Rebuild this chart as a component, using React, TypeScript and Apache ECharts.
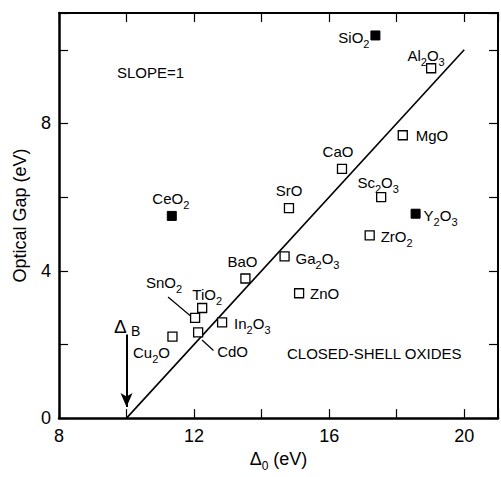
import React, { useEffect, useRef } from 'react';
import * as echarts from 'echarts';

// ---- Data ----
const oxides = ['SiO2', 'Al2O3', 'MgO', 'CaO', 'Sc2O3', 'SrO', 'Y2O3', 'ZrO2', 'Ga2O3', 'ZnO', 'CeO2', 'BaO', 'SnO2', 'TiO2', 'In2O3', 'CdO', 'Cu2O'];
const delta0 = [17.37, 19.02, 18.18, 16.38, 17.54, 14.81, 18.56, 17.2, 14.68, 15.11, 11.34, 13.52, 12.03, 12.24, 12.83, 12.12, 11.36];
const opticalGap = [10.39, 9.5, 7.68, 6.77, 6.0, 5.7, 5.55, 4.96, 4.39, 3.39, 5.49, 3.79, 2.72, 2.99, 2.6, 2.33, 2.21];
const filledOxides = ['SiO2', 'Y2O3', 'CeO2'];
const slopeLineX = [10, 20];
const slopeLineY = [0, 10];
const deltaB = 10;
const xTickLabels = [8, 12, 16, 20];
const yTickLabels = [0, 4, 8];

// ---- Label placement (styles) : [align, dx, dy] ----
const labelPlacement: Record<string, [string, number, number]> = {
  SiO2: ['right', -6, 2],
  Al2O3: ['center', -5, -13],
  MgO: ['left', 13, 0],
  CaO: ['center', -4, -17],
  Sc2O3: ['center', -3, -15],
  SrO: ['center', 0, -18],
  Y2O3: ['left', 8, 2],
  ZrO2: ['left', 11, 1],
  Ga2O3: ['left', 11, 2],
  ZnO: ['left', 11, 0],
  CeO2: ['center', -1, -17],
  BaO: ['center', -3, -17],
  SnO2: ['center', -31, -35],
  TiO2: ['center', 5, -13],
  In2O3: ['left', 12, 1],
  CdO: ['left', 19, 19],
  Cu2O: ['center', -21, 16],
};

const FONT = "'Liberation Sans', Arial, Helvetica, sans-serif";

const richFormula = (name: string) =>
  name
    .split(/(\d)/)
    .filter((t) => t !== '')
    .map((t) => (/\d/.test(t) ? `{s|${t}}` : `{m|${t}}`))
    .join('');

const rich = {
  m: { fontSize: 15, lineHeight: 24, verticalAlign: 'middle', fontFamily: FONT, color: '#000' },
  s: { fontSize: 11, lineHeight: 24, verticalAlign: 'bottom', fontFamily: FONT, color: '#000' },
};

const makeItem = (i: number) => {
  const name = oxides[i];
  const [align, dx, dy] = labelPlacement[name];
  return {
    name,
    value: [delta0[i], opticalGap[i]],
    label: {
      show: true,
      position: 'inside',
      align,
      verticalAlign: 'middle',
      offset: [dx, dy],
      formatter: richFormula(name),
      rich,
    },
  };
};

export default function App() {
  const ref = useRef<HTMLDivElement>(null);
  useEffect(() => {
    if (!ref.current) return;
    const chart = echarts.init(ref.current, undefined, { renderer: 'svg' });
    const idx = oxides.map((_, i) => i);
    const openData = idx.filter((i) => !filledOxides.includes(oxides[i])).map(makeItem);
    const filledData = idx.filter((i) => filledOxides.includes(oxides[i])).map(makeItem);

    const axisLine = (w: number) => ({ show: true, onZero: false, lineStyle: { color: '#000', width: w } });
    const tick = { show: true, inside: true, length: 9, lineStyle: { color: '#000', width: 1.2 } };

    chart.setOption({
      animation: false,
      backgroundColor: '#fff',
      grid: { left: 59, top: 13, right: 1, bottom: 54, containLabel: false },
      xAxis: [
        {
          type: 'value',
          position: 'bottom',
          min: 8,
          max: 21,
          interval: 2,
          axisLine: axisLine(2.5),
          axisTick: tick,
          splitLine: { show: false },
          axisLabel: {
            margin: 9,
            fontSize: 18,
            fontFamily: FONT,
            color: '#000',
            formatter: (v: number) => (xTickLabels.includes(v) ? String(v) : ''),
          },
          name: '{d|Δ}{s|0}{d| (eV)}',
          nameLocation: 'middle',
          nameGap: 24,
          nameTextStyle: {
            rich: {
              d: { fontSize: 18, lineHeight: 26, verticalAlign: 'middle', fontFamily: FONT, color: '#000' },
              s: { fontSize: 12, lineHeight: 26, verticalAlign: 'bottom', fontFamily: FONT, color: '#000' },
            },
          },
        },
        {
          type: 'value',
          position: 'top',
          min: 8,
          max: 21,
          interval: 2,
          axisLine: axisLine(2),
          axisTick: tick,
          splitLine: { show: false },
          axisLabel: { show: false },
        },
      ],
      yAxis: [
        {
          type: 'value',
          position: 'left',
          min: 0,
          max: 11,
          interval: 2,
          axisLine: axisLine(2.5),
          axisTick: tick,
          splitLine: { show: false },
          axisLabel: {
            margin: 8,
            fontSize: 18,
            fontFamily: FONT,
            color: '#000',
            formatter: (v: number) => (yTickLabels.includes(v) ? String(v) : ''),
          },
          name: 'Optical Gap (eV)',
          nameLocation: 'middle',
          nameGap: 30,
          nameTextStyle: { fontSize: 18, fontFamily: FONT, color: '#000' },
        },
        {
          type: 'value',
          position: 'right',
          min: 0,
          max: 11,
          interval: 2,
          axisLine: axisLine(2),
          axisTick: tick,
          splitLine: { show: false },
          axisLabel: { show: false },
        },
      ],
      series: [
        {
          type: 'line',
          data: slopeLineX.map((x, i) => [x, slopeLineY[i]]),
          showSymbol: false,
          symbol: 'none',
          lineStyle: { color: '#000', width: 1.6 },
          silent: true,
          z: 1,
          markLine: {
            silent: true,
            symbol: ['none', 'arrow'],
            symbolSize: [9, 14],
            label: { show: false },
            lineStyle: { color: '#000', width: 2, type: 'solid' },
            data: [[{ coord: [deltaB, 2.27] }, { coord: [deltaB, 0.3] }]],
          },
        },
        {
          type: 'scatter',
          symbol: 'rect',
          symbolSize: 9,
          itemStyle: { color: '#fff', borderColor: '#000', borderWidth: 1.3, opacity: 1 },
          data: openData,
          z: 3,
        },
        {
          type: 'scatter',
          symbol: 'rect',
          symbolSize: 9,
          itemStyle: { color: '#000', borderColor: '#000', borderWidth: 1, opacity: 1 },
          data: filledData,
          z: 3,
        },
      ],
      graphic: [
        {
          type: 'text',
          x: 117,
          y: 72,
          style: { text: 'SLOPE=1', font: `15px ${FONT}`, fill: '#000', verticalAlign: 'middle' },
        },
        {
          type: 'text',
          x: 287,
          y: 353,
          style: { text: 'CLOSED-SHELL OXIDES', font: `15px ${FONT}`, fill: '#000', verticalAlign: 'middle' },
        },
        {
          type: 'text',
          x: 114,
          y: 326,
          style: { text: 'Δ', font: `19px ${FONT}`, fill: '#000', verticalAlign: 'middle' },
        },
        {
          type: 'text',
          x: 131,
          y: 331,
          style: { text: 'B', font: `14px ${FONT}`, fill: '#000', verticalAlign: 'middle' },
        },
        {
          type: 'line',
          shape: { x1: 168, y1: 297, x2: 193, y2: 318 },
          style: { stroke: '#000', lineWidth: 1.2 },
        },
        {
          type: 'line',
          shape: { x1: 202, y1: 340, x2: 213.5, y2: 350.5 },
          style: { stroke: '#000', lineWidth: 1.2 },
        },
      ],
    });
    return () => chart.dispose();
  }, []);
  return <div ref={ref} style={{ position: 'fixed', left: 0, top: 0, width: 501, height: 477 }} />;
}
